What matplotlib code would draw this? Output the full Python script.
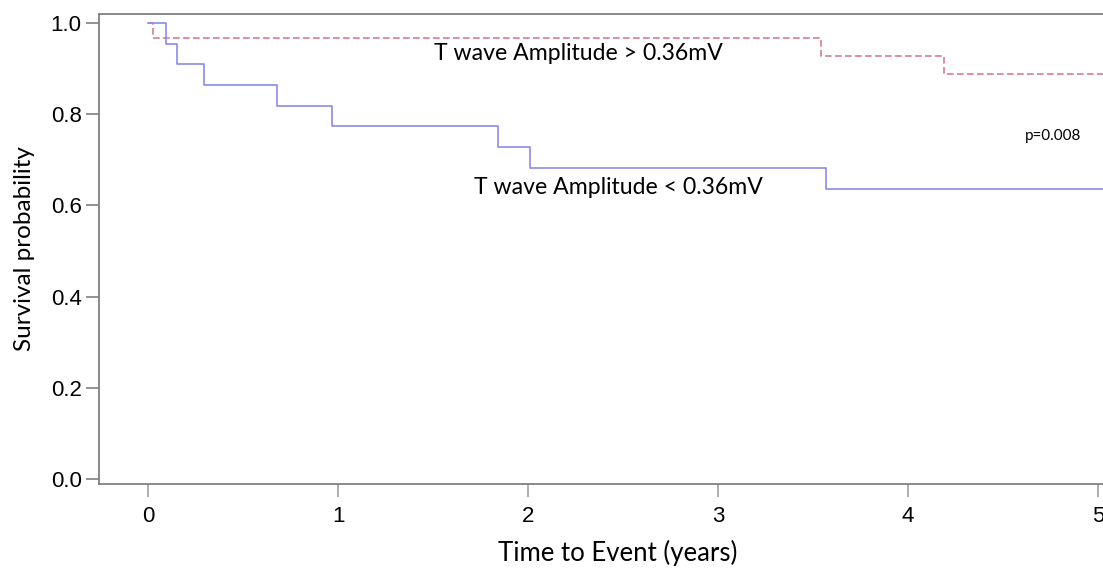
import matplotlib
matplotlib.use("Agg")
import matplotlib.pyplot as plt

# Kaplan-Meier step data
high_t = [0.0, 0.025, 3.54, 4.19, 5.1]
high_s = [1.0, 0.968, 0.928, 0.888, 0.888]

low_t = [0.0, 0.095, 0.153, 0.296, 0.679, 0.967, 1.84, 2.01, 3.57, 5.1]
low_s = [1.0, 0.955, 0.909, 0.864, 0.818, 0.773, 0.727, 0.682, 0.636, 0.636]

x_ticks = [0, 1, 2, 3, 4, 5]
y_ticks = [0.0, 0.2, 0.4, 0.6, 0.8, 1.0]

label_high = "T wave Amplitude > 0.36mV"
label_low = "T wave Amplitude < 0.36mV"
p_text = "p=0.008"

fig = plt.figure(figsize=(11.03, 5.72), dpi=100)
ax = fig.add_axes([99 / 1103, 1 - 484 / 572, 1 - 99 / 1103, (484 - 14) / 572])

ax.step(high_t, high_s, where="post", color="#d97d8e", lw=1.2, linestyle=(0, (4, 2)))
ax.step(low_t, low_s, where="post", color="#8a8af0", lw=1.2)

ax.set_xlim(-0.258, 5.026)
ax.set_ylim(-0.011, 1.0197)

ax.set_xticks(x_ticks)
ax.set_yticks(y_ticks)
ax.set_xticklabels([str(v) for v in x_ticks], fontsize=16, family="Liberation Sans")
ax.set_yticklabels(["%.1f" % v for v in y_ticks], fontsize=16, family="Liberation Sans")
ax.tick_params(axis="x", length=9.5, width=1.2, color="#a0a0a0", pad=6.5)
ax.tick_params(axis="y", length=9.5, width=1.2, color="#808080", pad=3)

for side in ["left", "bottom", "top"]:
    ax.spines[side].set_color("#808080")
    ax.spines[side].set_linewidth(1.3)
ax.spines["right"].set_visible(False)

ax.set_xlabel("Time to Event (years)", fontsize=18.5, family="Lato")
ax.xaxis.set_label_coords(0.517, -0.118)
ax.set_ylabel("Survival probability", fontsize=17.5, family="Lato")
ax.yaxis.set_label_coords(-0.064, 0.5)

ax.text(1.505, 0.919, label_high, fontsize=16.6, family="Lato", ha="left", va="baseline")
ax.text(1.715, 0.625, label_low, fontsize=16.6, family="Lato", ha="left", va="baseline")
ax.text(4.615, 0.743, p_text, fontsize=11, family="Lato", ha="left", va="baseline")

fig.savefig("out.png", dpi=100)
